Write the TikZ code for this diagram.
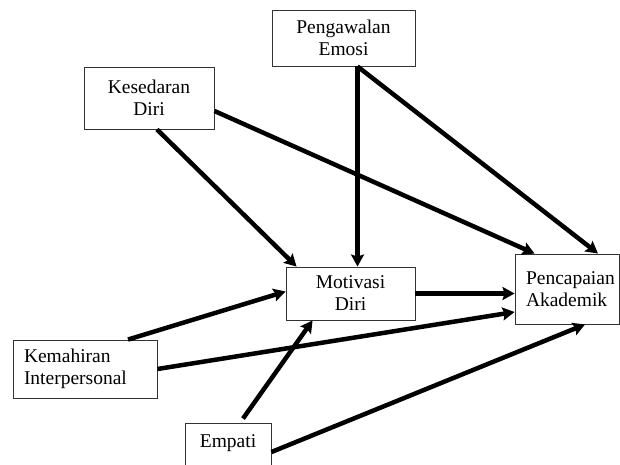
\documentclass[tikz,border=0pt]{standalone}
\usepackage{fontspec}
\setmainfont{Liberation Serif}
\usetikzlibrary{arrows.meta}
\tikzset{box/.style={rectangle,draw=black!80,line width=.9pt,inner sep=0pt,
    align=center,font=\fontsize{19.5}{22}\selectfont},
  lbox/.style={box,align=left,inner xsep=11pt},
  arrow/.style={-{Stealth[length=12pt,width=13pt,inset=2pt]},line width=4.5pt}}

\begin{document}
\begin{tikzpicture}[x=1pt,y=1pt]
  \path[use as bounding box] (0,0) rectangle (620,464);
  \node[box,minimum width=143pt,minimum height=56pt] (emosi) at (343.5,426) {Pengawalan\\Emosi};
  \node[box,minimum width=130pt,minimum height=62pt] (sedar) at (149,366) {Kesedaran\\Diri};
  \node[box,minimum width=129pt,minimum height=53pt] (motiv) at (350.5,170.5) {Motivasi\\Diri};
  \node[lbox,text width=82pt,minimum height=70pt] (capai) at (567,175) {Pencapaian\\Akademik};
  \node[lbox,text width=122pt,minimum height=58pt] (mahir) at (85,95) {Kemahiran\\Interpersonal};
  \node[box,minimum width=86pt,minimum height=52pt,text depth=16pt] (empati) at (228,15) {Empati};
  \draw[arrow] ([xshift=14pt]emosi.south) -- ([xshift=7pt]motiv.north);
  \draw[arrow] ([xshift=14pt]emosi.south) -- ([xshift=31pt]capai.north);
  \draw[arrow] ([xshift=8pt]sedar.south) -- ([xshift=11pt]motiv.north west);
  \draw[arrow] ([yshift=-13pt]sedar.east) -- ([xshift=20pt]capai.north west);
  \draw[arrow] (motiv.east) -- (motiv.east -| capai.west);
  \draw[arrow] ([xshift=43pt]mahir.north) -- ([yshift=2pt]motiv.west);
  \draw[arrow] (mahir.east) -- ([yshift=-23pt]capai.west);
  \draw[arrow] ([shift={(15pt,4pt)}]empati.north) -- ([xshift=27pt]motiv.south west);
  \draw[arrow] ([yshift=-3pt]empati.east) -- ([xshift=18pt]capai.south);
\end{tikzpicture}
\end{document}
